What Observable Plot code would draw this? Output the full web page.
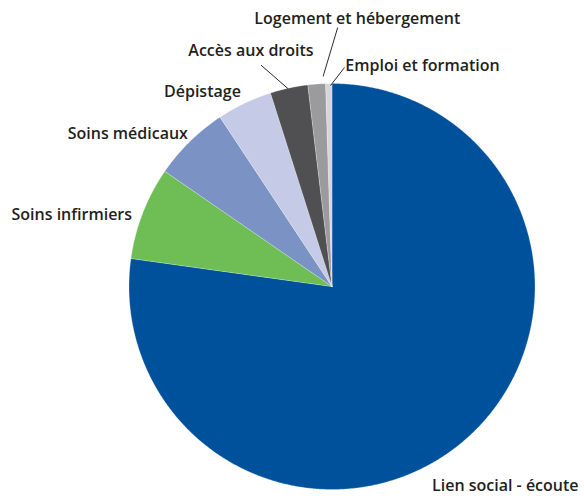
<!DOCTYPE html>
<html>
<head>
<meta charset="utf-8">
<script src="https://cdn.jsdelivr.net/npm/d3@7"></script>
<script src="https://cdn.jsdelivr.net/npm/@observablehq/plot@0.6"></script>
<style>
  html, body { margin: 0; padding: 0; background: #fff; }
  #chart svg { display: block; }
</style>
</head>
<body>
<div id="chart"></div>
<script>
// ---- data ----
const categories = ["Lien social - écoute", "Soins infirmiers", "Soins médicaux", "Dépistage", "Accès aux droits", "Logement et hébergement", "Emploi et formation"];
const shares = [77.2, 7.4, 6.1, 4.4, 3.0, 1.4, 0.5];
const colors = ["#00519b", "#6ebe55", "#7a92c4", "#c5cbe6", "#505053", "#9b9b9e", "#d7d7da"];

// ---- layout (pixels) ----
const W = 584, H = 496, R = 203, CX = 331.5, CY = 286;
// label offsets (px) from each slice's outer mid point
const labelOffsets = [[40, 46], [-71, 1.5], [-62, -8], [-42, -11], [-38, -37], [40.6, -65.6], [93.7, -18]];
// leader lines (px offsets from outer mid point): [from, to] or null
const leaders = [null, null, null, null, [[-1, 0.5], [-28, -23]], [[6.4, -7.6], [21, -56.6]], [[1.7, 2], [15.7, -16]]];

const data = categories.map((c, i) => ({category: c, value: shares[i]}));
const arcs = d3.pie().sort(null).value(d => d.value)(data);

// polygon points in data units (clockwise from 12 o'clock)
const pts = [];
arcs.forEach(a => {
  const c = a.data.category;
  pts.push({category: c, x: 0, y: 0});
  const n = Math.max(2, Math.ceil((a.endAngle - a.startAngle) / 0.005));
  for (let k = 0; k <= n; k++) {
    const t = a.startAngle + (a.endAngle - a.startAngle) * k / n;
    pts.push({category: c, x: Math.sin(t), y: Math.cos(t)});
  }
  pts.push({category: c, x: 0, y: 0});
});

const labels = arcs.map((a, i) => {
  const m = (a.startAngle + a.endAngle) / 2;
  const ex = Math.sin(m), ey = Math.cos(m);
  const [ox, oy] = labelOffsets[i];
  return {category: a.data.category, x: ex + ox / R, y: ey - oy / R};
});
const links = [];
arcs.forEach((a, i) => {
  if (!leaders[i]) return;
  const m = (a.startAngle + a.endAngle) / 2;
  const ex = Math.sin(m), ey = Math.cos(m);
  const [[fx, fy], [tx, ty]] = leaders[i];
  links.push({x1: ex + fx / R, y1: ey - fy / R, x2: ex + tx / R, y2: ey - ty / R});
});

const chart = Plot.plot({
  width: W,
  height: H,
  marginTop: 0, marginBottom: 0, marginLeft: 0, marginRight: 0,
  x: {domain: [-1, 1], range: [CX - R, CX + R], axis: null},
  y: {domain: [-1, 1], range: [CY + R, CY - R], axis: null},
  color: {domain: categories, range: colors},
  style: {fontFamily: "'Open Sans', sans-serif", background: "#fff"},
  marks: [
    Plot.line(pts, {x: "x", y: "y", z: "category", fill: "category", stroke: "#ffffff", strokeWidth: 0.4, strokeOpacity: 0.6}),
    Plot.link(links, {x1: "x1", y1: "y1", x2: "x2", y2: "y2", stroke: "#2b2b2b", strokeWidth: 1}),
    Plot.text(labels, {x: "x", y: "y", text: "category", fontSize: 16, fontWeight: 600, fill: "#231f20", textAnchor: "middle"})
  ]
});
document.getElementById("chart").appendChild(chart);
</script>
</body>
</html>
